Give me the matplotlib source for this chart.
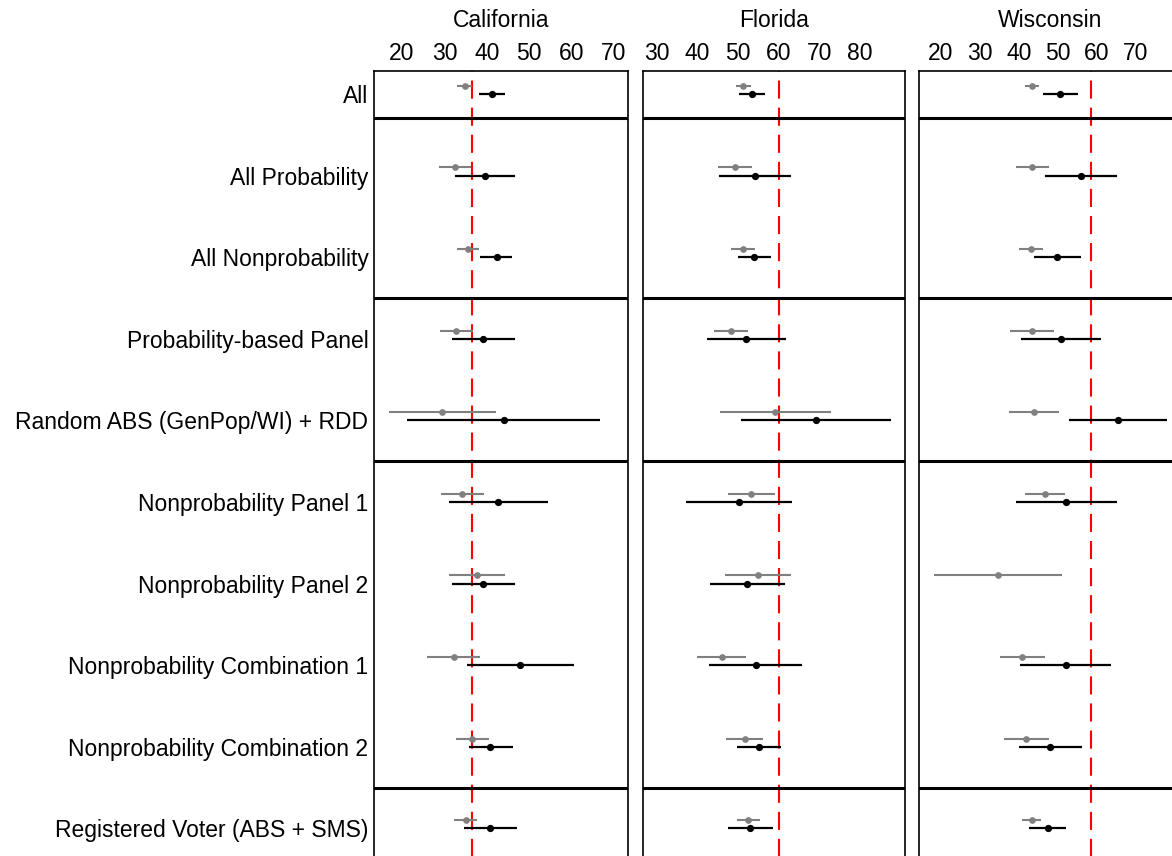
import numpy as np
import matplotlib.pyplot as plt

plt.rcParams['font.family'] = ['Liberation Sans', 'DejaVu Sans']

rows = ['All', 'All Probability', 'All Nonprobability', 'Probability-based Panel',
        'Random ABS (GenPop/WI) + RDD', 'Nonprobability Panel 1', 'Nonprobability Panel 2',
        'Nonprobability Combination 1', 'Nonprobability Combination 2',
        'Registered Voter (ABS + SMS)']
states = ['California', 'Florida', 'Wisconsin']
truth = [36.4, 60.0, 58.5]

# grey estimates (lo, est, hi)
ca_g_lo = [33.0, 28.7, 33.0, 28.9, 17.0, 29.1, 31.2, 26.0, 32.7, 32.3]
ca_g = [34.8, 32.5, 35.5, 32.8, 29.5, 34.2, 37.8, 32.2, 36.5, 35.0]
ca_g_hi = [36.4, 36.3, 38.1, 36.7, 42.1, 39.3, 44.4, 38.4, 40.6, 37.7]
# black estimates
ca_b_lo = [38.2, 32.4, 38.5, 31.7, 21.3, 31.2, 31.7, 35.3, 35.7, 34.6]
ca_b = [41.2, 39.6, 42.3, 39.1, 44.1, 42.7, 39.1, 47.8, 40.8, 40.8]
ca_b_hi = [44.4, 46.7, 46.0, 46.6, 66.8, 54.4, 46.6, 60.5, 46.2, 47.1]

fl_g_lo = [49.5, 45.1, 48.2, 44.0, 45.6, 47.4, 46.7, 39.9, 47.0, 49.8]
fl_g = [51.3, 49.2, 51.1, 48.2, 59.2, 53.2, 54.9, 46.0, 51.6, 52.5]
fl_g_hi = [53.1, 53.4, 54.1, 52.5, 73.0, 59.2, 63.0, 52.0, 56.2, 55.4]
fl_b_lo = [50.1, 45.3, 49.9, 42.3, 50.6, 37.1, 43.1, 42.9, 49.8, 47.5]
fl_b = [53.5, 54.2, 54.0, 52.0, 69.1, 50.1, 52.3, 54.3, 55.1, 53.0]
fl_b_hi = [56.7, 63.0, 58.0, 61.9, 87.7, 63.2, 61.5, 65.7, 60.5, 58.6]

wi_g_lo = [41.5, 39.3, 40.1, 37.7, 37.4, 41.5, 18.3, 35.2, 36.2, 40.7]
wi_g = [43.4, 43.5, 43.2, 43.3, 43.8, 46.6, 34.7, 40.9, 41.9, 43.3]
wi_g_hi = [45.2, 47.7, 46.2, 48.9, 50.3, 51.8, 51.2, 46.7, 47.7, 45.8]
wi_b_lo = [46.1, 46.7, 43.9, 40.5, 52.9, 39.2, np.nan, 40.4, 40.0, 42.6]
wi_b = [50.6, 55.9, 49.9, 50.8, 65.5, 52.1, np.nan, 52.0, 48.1, 47.4]
wi_b_hi = [55.1, 65.1, 55.9, 61.2, 78.0, 65.1, np.nan, 63.7, 56.2, 52.1]

grey = [(ca_g_lo, ca_g, ca_g_hi), (fl_g_lo, fl_g, fl_g_hi), (wi_g_lo, wi_g, wi_g_hi)]
black = [(ca_b_lo, ca_b, ca_b_hi), (fl_b_lo, fl_b, fl_b_hi), (wi_b_lo, wi_b, wi_b_hi)]
xlims = [(13.4, 73.3), (26.5, 91.2), (14.4, 81.6)]
xticks = [[20, 30, 40, 50, 60, 70], [30, 40, 50, 60, 70, 80], [20, 30, 40, 50, 60, 70]]
seps = [0.3, 2.5, 4.5, 8.5]

W, H = 1172, 856
fs = 16.5
fig = plt.figure(figsize=(W / 100, H / 100), dpi=100)
# panel left edges and widths in pixels
lefts = [374, 643, 919]
widths = [254, 262, 262]
top, bot = 71, 870

y = np.arange(len(rows))
for k in range(3):
    ax = fig.add_axes([lefts[k] / W, (H - bot) / H, widths[k] / W, (bot - top) / H])
    ax.set_xlim(*xlims[k])
    ax.set_ylim(9.51, -0.282)
    ax.axvline(truth[k], color='red', lw=1.5, ls=(0, (8.7, 4.3)), zorder=1)
    for s in seps:
        ax.axhline(s, color='black', lw=2.2, zorder=2)
    lo, mid, hi = grey[k]
    ax.hlines(y - 0.1, lo, hi, color='#808080', lw=1.5, zorder=3)
    ax.plot(mid, y - 0.1, 'o', color='#808080', ms=3.8, zorder=4)
    lo, mid, hi = black[k]
    ax.hlines(y, lo, hi, color='black', lw=1.6, zorder=3)
    ax.plot(mid, y, 'o', color='black', ms=4.2, zorder=4)

    ax.xaxis.tick_top()
    ax.set_xticks(xticks[k])
    ax.tick_params(axis='x', length=0, pad=4, labelsize=fs)
    if k == 0:
        ax.set_yticks(y)
        ax.set_yticklabels(rows)
        ax.tick_params(axis='y', length=0, pad=4, labelsize=fs)
    else:
        ax.set_yticks([])
    for sp in ax.spines.values():
        sp.set_linewidth(1.2)
    fig.text((lefts[k] + widths[k] / 2) / W, 1 - 27 / H, states[k], fontsize=fs,
             ha='center', va='baseline')

fig.savefig('out.png', dpi=100)
